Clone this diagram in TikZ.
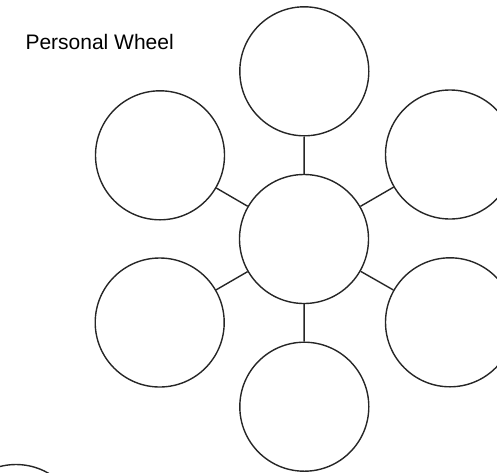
\documentclass[tikz,border=0pt]{standalone}
\usepackage{fontspec}
\setmainfont{Liberation Sans}
\begin{document}
\begin{tikzpicture}[x=1pt,y=-1pt,
  bubble/.style={circle,draw=black!85,line width=1.4pt,minimum size=129pt,inner sep=0pt},
  spoke/.style={draw=black!85,line width=1.4pt}]
\useasboundingbox (0,0) rectangle (497,472);
\node[anchor=base west,font=\fontsize{21}{25}\selectfont] (title) at (22,49) {Personal Wheel};
\node[bubble] (c) at (304,239) {};
\node[bubble] (t) at (304.3,71.3) {};
\node[bubble] (tl) at (160,155.3) {};
\node[bubble] (tr) at (450,154.5) {};
\node[bubble] (bl) at (159.7,322.5) {};
\node[bubble] (br) at (450,322.3) {};
\node[bubble] (b) at (304.3,406.7) {};
\node[bubble] (extra) at (16,529) {};
\draw[spoke] (c) -- (t);
\draw[spoke] (c) -- (tl);
\draw[spoke] (c) -- (tr);
\draw[spoke] (c) -- (bl);
\draw[spoke] (c) -- (br);
\draw[spoke] (c) -- (b);
\end{tikzpicture}
\end{document}
